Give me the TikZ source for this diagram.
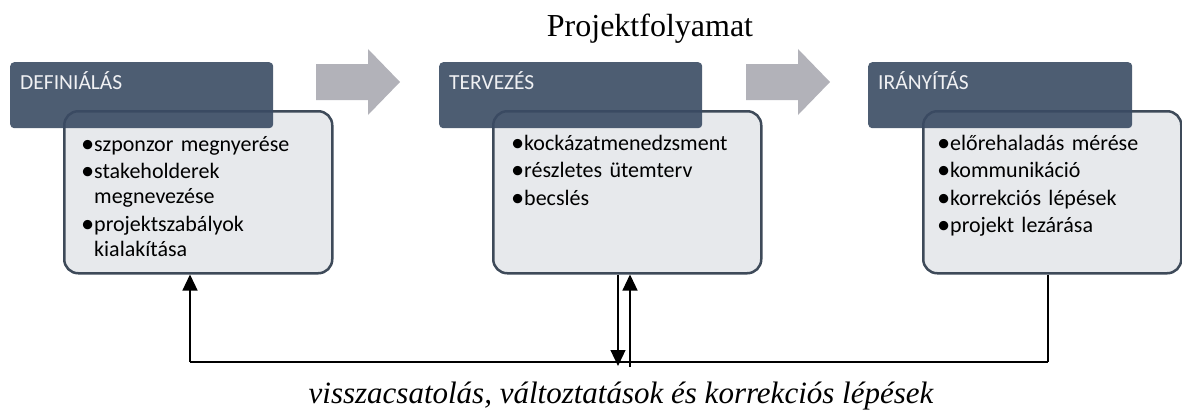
\documentclass[tikz,border=0pt]{standalone}
\usepackage{fontspec}
\setmainfont{Liberation Serif}
\newfontfamily\boxfont{Carlito}
\usetikzlibrary{arrows.meta,positioning}

\definecolor{hdrblue}{RGB}{58,75,99}
\definecolor{boxgray}{RGB}{231,233,236}
\definecolor{boxedge}{RGB}{62,74,89}
\definecolor{arrgray}{RGB}{178,178,185}
\definecolor{hdrfont}{RGB}{240,241,243}

% bullet and hanging indent
\newcommand{\bul}{\makebox[13pt][l]{\raisebox{-1.2pt}{\scalebox{1.2}{\textbullet}}}}
\newcommand{\hang}{\hspace*{13pt}}

\tikzset{
  hdrbox/.style={fill=hdrblue, fill opacity=0.9, rounded corners=4pt,
    minimum width=263pt, minimum height=66pt, anchor=north west, inner sep=0pt},
  itembox/.style={draw=boxedge, line width=2.5pt, fill=boxgray, rounded corners=14pt,
    minimum width=268pt, minimum height=162pt, anchor=north west, inner sep=0pt},
  hdrtext/.style={anchor=base west, inner sep=0pt, text=hdrfont,
    font=\boxfont\fontsize{21.5}{25}\selectfont},
  listtext/.style={anchor=base west, inner sep=0pt, text width=240pt, align=left,
    font=\boxfont\fontsize{22}{25}\selectfont},
  fbline/.style={draw=black, line width=1.2pt},
  fbarrow/.style={fbline, -{Triangle[length=16pt,width=15pt]}},
  flowarr/.pic={
    \fill[arrgray] (0,-18) -- (52,-18) -- (52,-33) -- (84,0) -- (52,33) -- (52,18) -- (0,18) -- cycle;
  }
}

\begin{document}
\begin{tikzpicture}[x=1pt,y=-1pt]
\useasboundingbox (0,0) rectangle (1182,412);

\node[anchor=base, font=\fontsize{32}{38}\selectfont] (title) at (650,37) {Projektfolyamat};

% flow arrows
\pic at (316,82) {flowarr};
\pic at (746,82) {flowarr};

% item boxes
\node[itembox] (boxA) at (63,110) {};
\node[itembox] (boxB) at (492,110) {};
\node[itembox, minimum width=258pt] (boxC) at (922,110) {};

% header boxes
\node[hdrbox] (hdrA) at (10,62) {};
\node[hdrbox] (hdrB) at (439,62) {};
\node[hdrbox, minimum width=264pt] (hdrC) at (868,62) {};

\node[hdrtext] (hdrAtxt) at ([xshift=10pt,yshift=-27pt]hdrA.north west) {DEFINIÁLÁS};
\node[hdrtext] (hdrBtxt) at ([xshift=10pt,yshift=-27pt]hdrB.north west) {TERVEZÉS};
\node[hdrtext] (hdrCtxt) at ([xshift=10pt,yshift=-27pt]hdrC.north west) {IRÁNYÍTÁS};

\node[listtext] (lstA) at ([xshift=18pt,yshift=-41pt]boxA.north west)
  {\bul szponzor megnyerése\\[2.5pt]\bul stakeholderek\\\hang megnevezése\\[2.5pt]\bul projektszabályok\\\hang kialakítása};
\node[listtext] (lstB) at ([xshift=19pt,yshift=-40pt]boxB.north west)
  {\bul kockázatmenedzsment\\[2.5pt]\bul részletes ütemterv\\[2.5pt]\bul becslés};
\node[listtext] (lstC) at ([xshift=15pt,yshift=-40pt]boxC.north west)
  {\bul előrehaladás mérése\\[2.5pt]\bul kommunikáció\\[2.5pt]\bul korrekciós lépések\\[2.5pt]\bul projekt lezárása};

% feedback loop
\coordinate (fbL) at (190,362);
\coordinate (fbR) at (1048,362);
\coordinate (fbDown) at (618,366);
\coordinate (fbUp) at (630,367);

\draw[fbarrow] (fbL) -- (fbL |- boxA.south);
\draw[fbline] (fbL) -- (fbR);
\draw[fbline] (fbR |- boxC.south) -- (fbR);
\draw[fbarrow] (fbDown |- boxB.south) -- (fbDown);
\draw[fbarrow] (fbUp) -- (fbUp |- boxB.south);

\node[anchor=base, font=\itshape\fontsize{31}{36}\selectfont] (fbtext) at (621,403)
  {visszacsatolás, változtatások és korrekciós lépések};
\end{tikzpicture}
\end{document}
